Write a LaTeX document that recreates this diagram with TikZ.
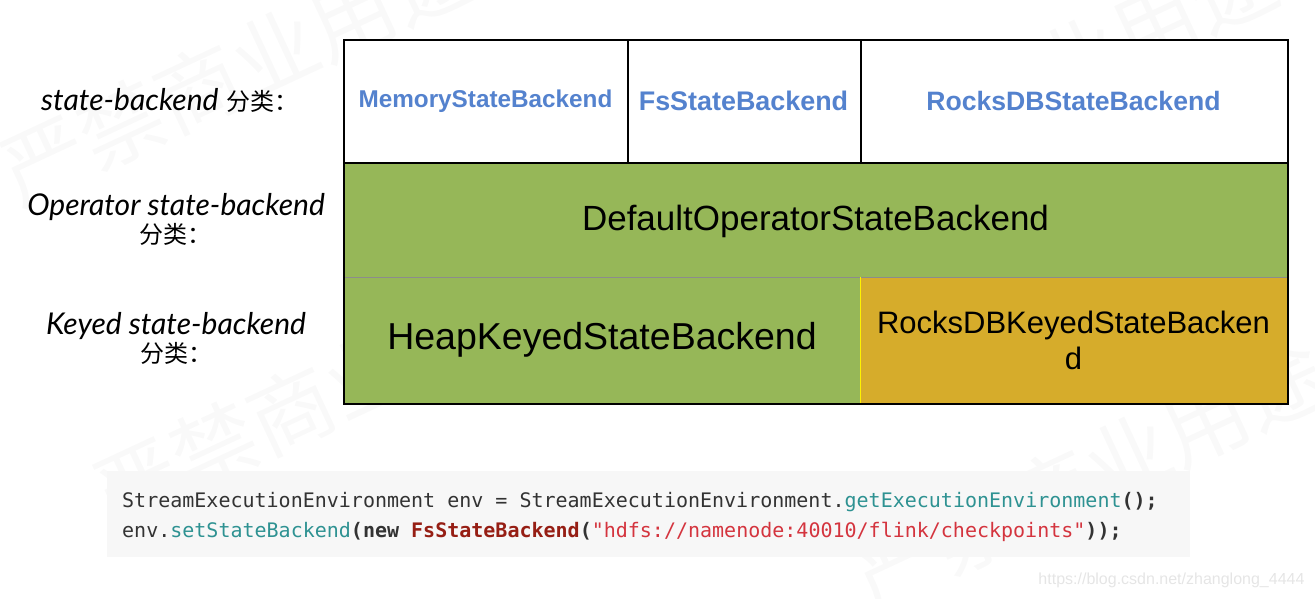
\documentclass[tikz,border=0pt]{standalone}
\usepackage{fontspec}
\usepackage{xcolor}
\usepackage{tikz}
\setmainfont{Liberation Sans}
\newfontfamily\handfont{Lato}
\newfontfamily\cjk{Noto Sans CJK SC}
\newfontfamily\codefont{DejaVu Sans Mono}
\definecolor{tblue}{RGB}{84,130,206}
\definecolor{tgreen}{RGB}{150,183,88}
\definecolor{tgold}{RGB}{214,172,43}
\definecolor{codebg}{RGB}{247,247,247}
\definecolor{codefg}{RGB}{51,51,51}
\definecolor{codeteal}{RGB}{46,146,146}
\definecolor{codedred}{RGB}{150,30,20}
\definecolor{codesred}{RGB}{212,52,62}

\begin{document}
\begin{tikzpicture}[x=1pt,y=-1pt,
	cell/.style={rectangle, draw=black!45, line width=1pt, inner sep=0pt, align=center},
	toprow/.style={cell, fill=white, minimum height=122pt, text=tblue},
	rowlabel/.style={align=center, font=\fontsize{30}{34}\selectfont},
	codeline/.style={anchor=base west, inner sep=0pt, text=codefg, font=\codefont\fontsize{20}{24}\selectfont},
	watermark/.style={text=black!2.5, rotate=25, font=\cjk\fontsize{85}{90}\selectfont}]
\useasboundingbox (0,0) rectangle (1315,598);
\foreach \x/\y/\n in {237/70/1, 330/392/2, 1040/78/3, 1090/475/4} {
	\node[watermark] (wm\n) at (\x,\y) {严禁商业用途};
};
\node[toprow, minimum width=283pt, font=\bfseries\fontsize{24.3}{30}\selectfont] (mem) at (485.5,101) {MemoryStateBackend};
\node[toprow, minimum width=233pt, font=\bfseries\fontsize{26.9}{30}\selectfont] (fs) at (743.5,101) {FsStateBackend};
\node[toprow, minimum width=427pt, font=\bfseries\fontsize{26.6}{30}\selectfont] (rocks) at (1073.5,101) {RocksDBStateBackend};
\node[cell, fill=tgreen, minimum width=943pt, minimum height=115pt, font=\fontsize{35}{40}\selectfont] (op) at (815.5,221) {DefaultOperatorStateBackend};
\node[cell, fill=tgreen, minimum width=516pt, minimum height=126pt, font=\fontsize{37.5}{42}\selectfont] (heap) at (602,340) {\raisebox{-3pt}{HeapKeyedStateBackend}};
\node[cell, fill=tgold, minimum width=427pt, minimum height=126pt, font=\fontsize{31}{36}\selectfont] (rkeyed) at (1073.5,340) {RocksDBKeyedStateBacken\\d};
\draw[yellow, line width=1.2pt] ([xshift=1pt]rkeyed.north west) -- ([xshift=1pt]rkeyed.south west);
\draw[line width=2pt] (mem.north west) rectangle (rkeyed.south east);
\draw[line width=2pt] (mem.south west) -- (rocks.south east)
	(mem.north east) -- (mem.south east)
	(fs.north east) -- (fs.south east);
\node[rowlabel] (lstate) at (170,100) {{\handfont\itshape state-backend} {\cjk\fontsize{24}{28}\selectfont 分类：}};
\node[rowlabel] (lop) at (176,219) {{\handfont\itshape Operator state-backend}\\[-6pt]{\cjk\fontsize{24}{28}\selectfont 分类：}};
\node[rowlabel] (lkey) at (176,338) {{\handfont\itshape Keyed state-backend}\\[-6pt]{\cjk\fontsize{24}{28}\selectfont 分类：}};
\node[fill=codebg, minimum width=1083pt, minimum height=86pt, inner sep=0pt] (code) at (648.5,514) {};
\node[codeline] (line1) at (122,507) {StreamExecutionEnvironment env = StreamExecutionEnvironment.\textcolor{codeteal}{getExecutionEnvironment}\textbf{();}};
\node[codeline] (line2) at (122,537) {env.\textcolor{codeteal}{setStateBackend}\textbf{(new }\textcolor{codedred}{\textbf{FsStateBackend}}\textbf{(}\textcolor{codesred}{"hdfs://namenode:40010/flink/checkpoints"}\textbf{));}};
\node[anchor=east, text=black!10, font=\fontsize{16}{18}\selectfont] (url) at (1308,580) {https://blog.csdn.net/zhanglong\_4444};
\end{tikzpicture}
\end{document}
